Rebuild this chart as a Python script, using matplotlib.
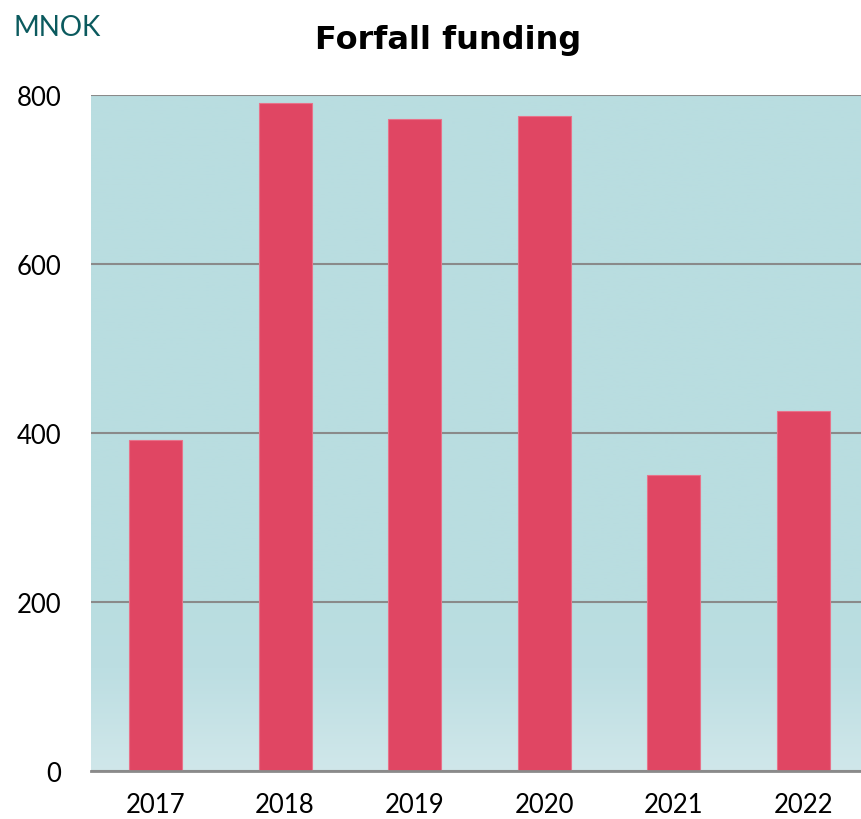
import numpy as np
import matplotlib.pyplot as plt
from matplotlib.colors import LinearSegmentedColormap

years = ["2017", "2018", "2019", "2020", "2021", "2022"]
amounts = [392, 790, 772, 775, 350, 426]

BAR_COLOR = "#e04663"
GRID_COLOR = "#8a8a8a"


def main():
    fig = plt.figure(figsize=(8.61, 8.20), dpi=100)
    ax = fig.add_axes([0.1054, 0.0585, 0.903, 0.8244])

    # soft vertical gradient behind the bars, lighter near the baseline
    cmap = LinearSegmentedColormap.from_list(
        "bg", [(0.0, "#d0e7ea"), (0.15, "#bcdee2"), (0.25, "#b9dde0"), (1.0, "#b9dde0")])
    grad = np.linspace(0, 1, 256).reshape(-1, 1)
    ax.imshow(grad, cmap=cmap, aspect="auto", origin="lower",
              extent=(0, 1, 0, 1), transform=ax.transAxes, zorder=0)

    x = np.arange(len(years))
    ax.bar(x, amounts, width=0.41, color=BAR_COLOR, edgecolor="#e8728a",
           linewidth=0.8, zorder=3)

    ax.set_xlim(-0.5, len(years) - 0.5)
    ax.set_ylim(0, 800)
    ax.set_yticks([0, 200, 400, 600, 800])
    ax.set_xticks(x)
    ax.set_xticklabels(years)

    ax.grid(axis="y", color=GRID_COLOR, linewidth=1.5, zorder=1)
    ax.set_axisbelow(True)
    for side in ["top", "right", "left"]:
        ax.spines[side].set_visible(False)
    ax.spines["bottom"].set_color(GRID_COLOR)
    ax.spines["bottom"].set_linewidth(2)
    ax.spines["bottom"].set_zorder(4)

    ax.tick_params(length=0, labelsize=18.5)
    ax.tick_params(axis="x", pad=15)
    ax.tick_params(axis="y", pad=21)
    for lbl in ax.get_xticklabels() + ax.get_yticklabels():
        lbl.set_fontfamily("Lato")

    fig.text(0.016, 0.966, "MNOK", fontsize=20, color="#0b5a5e",
             family="Lato", va="center", ha="left")
    fig.text(0.521, 0.951, "Forfall funding", fontsize=23, fontweight="bold",
             family="DejaVu Sans", va="center", ha="center")

    fig.savefig("out.png", dpi=100)


if __name__ == "__main__":
    main()
